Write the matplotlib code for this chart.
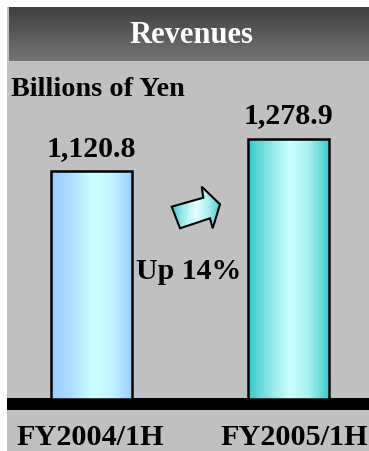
import numpy as np
import matplotlib
matplotlib.use("Agg")
import matplotlib.pyplot as plt
import matplotlib.transforms as mtransforms
from matplotlib.colors import LinearSegmentedColormap
from matplotlib.patches import Rectangle, Polygon

# ---- data ----
categories = ["FY2004/1H", "FY2005/1H"]
revenues = [1120.8, 1278.9]
title = "Revenues"
unit_label = "Billions of Yen"
change_label = "Up 14%"

W, H = 369, 451
DPI = 100
FONT = "Liberation Serif"

fig = plt.figure(figsize=(W / DPI, H / DPI), dpi=DPI)
fig.patch.set_facecolor("white")

# background axes in pixel coordinates
bg = fig.add_axes([0, 0, 1, 1], zorder=0)
bg.set_xlim(0, W)
bg.set_ylim(H, 0)
bg.axis("off")

# gray panel
bg.add_patch(Rectangle((7, 7), W - 7, H - 7, facecolor="#C0C0C0", edgecolor="none"))
# header gradient
hdr = np.linspace(0, 1, 100).reshape(-1, 1)
hdr_cmap = LinearSegmentedColormap.from_list("hdr", ["#404040", "#747474"])
bg.imshow(hdr, cmap=hdr_cmap, aspect="auto", extent=(9, W, 61, 7), zorder=1)
bg.text(191, 43, title, color="white", fontsize=22, fontweight="bold",
        family=FONT, ha="center", va="baseline", zorder=2)
bg.text(11, 95.5, unit_label, color="black", fontsize=20.3, fontweight="bold",
        family=FONT, ha="left", va="baseline", zorder=2)
# baseline band
bg.add_patch(Rectangle((7, 398), W - 7, 12, facecolor="black", edgecolor="none", zorder=3))

# arrow (decoration)
arrow_pts = [(171.7, 206.7), (203.3, 197.7), (201.7, 186.7), (220, 204.3),
             (212.7, 228.3), (210, 218.3), (180, 228.3)]
arrow = Polygon(arrow_pts, closed=True, facecolor="none", edgecolor="black",
                linewidth=1.5, zorder=5)
bg.add_patch(arrow)
arr_cmap = LinearSegmentedColormap.from_list(
    "arr", ["#40C8C8", "#A0ECEC", "#E8FFFF", "#A8F0F0", "#40C8C8"])
grad = np.linspace(0, 1, 200).reshape(1, -1)
im = bg.imshow(grad, cmap=arr_cmap, aspect="auto", extent=(171, 221, 229, 186), zorder=4)
im.set_clip_path(arrow)
bg.text(189, 279, change_label, color="black", fontsize=21.5, fontweight="bold",
        family=FONT, ha="center", va="baseline", zorder=6)

# main chart axes
ax_left, ax_right = 7, W
ax_bottom, ax_top = 399, 7
ax = fig.add_axes([ax_left / W, (H - ax_bottom) / H,
                   (ax_right - ax_left) / W, (ax_bottom - ax_top) / H], zorder=2)
ax.patch.set_alpha(0)
px_per_unit_x = 197.0
c0 = 91.5
xlim = (-(c0 - ax_left) / px_per_unit_x, 1 + (ax_right - (c0 + px_per_unit_x)) / px_per_unit_x)
px_per_val = 0.2035
ylim = (0, (ax_bottom - ax_top) / px_per_val)
for s in ax.spines.values():
    s.set_visible(False)
ax.set_yticks([])

x = np.arange(len(categories))
bars = ax.bar(x, revenues, width=0.415, facecolor="none", edgecolor="black",
              linewidth=1.8, zorder=3)
bar_cmaps = [
    LinearSegmentedColormap.from_list("b1", ["#99CCFF", "#B0DDFF", "#CCFFFF", "#C4F4FF", "#99CCFF"]),
    LinearSegmentedColormap.from_list("b2", ["#33CCCC", "#88E4E4", "#CCFFFF", "#A8F0F0", "#33CCCC"]),
]
for b, cm in zip(bars, bar_cmaps):
    x0, w, h = b.get_x(), b.get_width(), b.get_height()
    gi = ax.imshow(grad, cmap=cm, aspect="auto", extent=(x0, x0 + w, 0, h), zorder=2)
    gi.set_clip_path(b)
ax.set_aspect("auto")
ax.set_xlim(*xlim)
ax.set_ylim(*ylim)

for xi, v in zip(x, revenues):
    ax.annotate(f"{v:,.1f}", (xi, v), xytext=(0, 11), textcoords="offset points",
                ha="center", va="baseline", fontsize=21.5, fontweight="bold", family=FONT)

ax.set_xticks(x)
ax.set_xticklabels(categories, fontsize=21.8, fontweight="bold", family=FONT)
ax.tick_params(axis="x", length=0, pad=18)
# small horizontal nudges of the category labels as in the original
label_shifts_px = [-1, 6]
for lbl, dx in zip(ax.get_xticklabels(), label_shifts_px):
    lbl.set_transform(lbl.get_transform() +
                      mtransforms.ScaledTranslation(dx / DPI, 0, fig.dpi_scale_trans))

fig.savefig("out.png", dpi=DPI, facecolor="white")
